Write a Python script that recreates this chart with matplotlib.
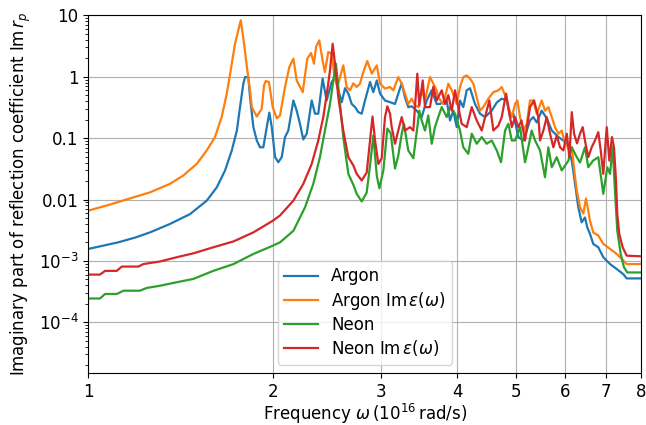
import math

import matplotlib
matplotlib.use("Agg")
import matplotlib.pyplot as plt
from matplotlib.ticker import FixedLocator, FuncFormatter, LogLocator, NullLocator

plt.rcParams["font.size"] = 12

# Argon, reflection coefficient
argon_freq = [1.000, 1.119, 1.192, 1.261, 1.359, 1.466, 1.561, 1.621, 1.672, 1.715,
              1.748, 1.769, 1.791, 1.803, 1.825, 1.837, 1.860, 1.884, 1.907, 1.931,
              1.956, 1.975, 1.993, 2.018, 2.043, 2.069, 2.095, 2.121, 2.162, 2.189,
              2.216, 2.244, 2.273, 2.316, 2.345, 2.374, 2.413, 2.450, 2.497, 2.528,
              2.560, 2.593, 2.625, 2.658, 2.692, 2.726, 2.760, 2.795, 2.830, 2.884,
              2.920, 2.958, 2.995, 3.051, 3.109, 3.168, 3.207, 3.249, 3.289, 3.330,
              3.373, 3.437, 3.502, 3.569, 3.637, 3.705, 3.751, 3.847, 3.896, 3.944,
              3.995, 4.045, 4.095, 4.148, 4.200, 4.279, 4.361, 4.444, 4.557, 4.644,
              4.732, 4.822, 4.882, 4.943, 5.036, 5.132, 5.199, 5.262, 5.328, 5.398,
              5.499, 5.604, 5.711, 5.782, 5.855, 5.966, 6.043, 6.079, 6.157, 6.234,
              6.310, 6.390, 6.470, 6.527, 6.594, 6.676, 6.803, 6.932, 7.110, 7.290,
              7.473, 7.568, 8.000]
argon_val = [0.00157, 0.00201, 0.0024, 0.00292, 0.0040, 0.0058, 0.0096, 0.0158, 0.0297, 0.063,
             0.133, 0.32, 0.77, 0.985, 0.985, 0.46, 0.151, 0.0915, 0.071, 0.071,
             0.151, 0.26, 0.151, 0.049, 0.0405, 0.049, 0.104, 0.133, 0.41, 0.28,
             0.171, 0.095, 0.118, 0.41, 0.25, 0.25, 0.93, 0.41, 0.82, 0.97,
             0.60, 0.385, 0.65, 0.53, 0.36, 0.32, 0.265, 0.25, 0.41, 0.82,
             0.56, 0.87, 0.53, 0.41, 0.385, 0.36, 0.53, 0.78, 0.46, 0.32,
             0.33, 0.28, 0.22, 0.41, 0.60, 0.36, 0.36, 0.41, 0.194, 0.28,
             0.151, 0.41, 0.32, 0.60, 0.65, 0.36, 0.25, 0.22, 0.28, 0.38,
             0.44, 0.41, 0.22, 0.25, 0.104, 0.0915, 0.133, 0.194, 0.22, 0.18,
             0.28, 0.21, 0.133, 0.118, 0.104, 0.0915, 0.081, 0.071, 0.043, 0.018,
             0.0075, 0.00426, 0.0051, 0.00353, 0.00275, 0.00189, 0.00167, 0.00115, 0.00089, 0.00074,
             0.00061, 0.00052, 0.00052]

# Argon, imaginary part of permittivity
argon_eps_freq = [1.000, 1.085, 1.183, 1.261, 1.359, 1.429, 1.503, 1.561, 1.610, 1.651,
                  1.683, 1.708, 1.736, 1.774, 1.796, 1.818, 1.837, 1.849, 1.884, 1.919,
                  1.936, 1.948, 1.972, 2.000, 2.031, 2.056, 2.095, 2.129, 2.162, 2.189,
                  2.239, 2.278, 2.310, 2.336, 2.354, 2.383, 2.413, 2.434, 2.465, 2.497,
                  2.528, 2.560, 2.608, 2.642, 2.675, 2.708, 2.743, 2.777, 2.812, 2.854,
                  2.903, 2.958, 2.995, 3.051, 3.109, 3.148, 3.207, 3.249, 3.289, 3.330,
                  3.373, 3.415, 3.458, 3.502, 3.546, 3.613, 3.659, 3.705, 3.727, 3.798,
                  3.871, 3.921, 3.995, 4.045, 4.095, 4.148, 4.200, 4.253, 4.307, 4.361,
                  4.415, 4.500, 4.585, 4.672, 4.732, 4.791, 4.851, 4.914, 4.975, 5.018,
                  5.069, 5.132, 5.199, 5.262, 5.328, 5.398, 5.499, 5.568, 5.638, 5.711,
                  5.782, 5.855, 5.930, 6.004, 6.079, 6.157, 6.234, 6.274, 6.351, 6.430,
                  6.495, 6.551, 6.594, 6.676, 6.803, 6.932, 7.110, 7.290, 7.428, 7.568,
                  8.000]
argon_eps_val = [0.0066, 0.0083, 0.0108, 0.0131, 0.018, 0.0246, 0.038, 0.063, 0.104, 0.22,
                 0.53, 1.27, 3.45, 8.3, 3.45, 1.27, 0.60, 0.32, 0.225, 0.30,
                 0.72, 0.85, 0.82, 0.32, 0.21, 0.234, 0.68, 1.43, 1.97, 0.87,
                 0.56, 1.97, 2.43, 1.63, 3.04, 3.91, 1.84, 1.19, 2.52, 2.37,
                 0.87, 0.78, 1.53, 0.68, 0.60, 0.78, 0.68, 0.77, 1.19, 1.80,
                 1.12, 1.53, 0.77, 0.64, 0.68, 0.60, 0.985, 0.77, 0.53, 0.36,
                 0.44, 0.34, 0.32, 0.60, 0.41, 0.985, 0.77, 0.60, 0.46, 0.36,
                 0.77, 0.60, 0.36, 0.68, 0.985, 1.05, 0.93, 0.77, 0.46, 0.28,
                 0.32, 0.44, 0.56, 0.60, 0.68, 0.50, 0.32, 0.22, 0.36, 0.41,
                 0.22, 0.133, 0.171, 0.41, 0.41, 0.25, 0.41, 0.28, 0.32, 0.22,
                 0.151, 0.118, 0.133, 0.081, 0.071, 0.071, 0.0231, 0.014, 0.0075, 0.0059,
                 0.0104, 0.0066, 0.0045, 0.0029, 0.0026, 0.0019, 0.00157, 0.0013, 0.00108, 0.00089,
                 0.00089]

# Neon, reflection coefficient
neon_freq = [1.000, 1.045, 1.065, 1.113, 1.141, 1.214, 1.245, 1.309, 1.394, 1.484,
             1.600, 1.726, 1.860, 2.000, 2.056, 2.162, 2.259, 2.330, 2.389, 2.434,
             2.481, 2.512, 2.537, 2.570, 2.608, 2.658, 2.708, 2.743, 2.795, 2.848,
             2.884, 2.920, 2.958, 2.987, 3.032, 3.078, 3.117, 3.168, 3.207, 3.249,
             3.276, 3.330, 3.394, 3.445, 3.471, 3.502, 3.546, 3.590, 3.637, 3.681,
             3.727, 3.776, 3.847, 3.896, 3.970, 4.045, 4.095, 4.173, 4.227, 4.307,
             4.389, 4.472, 4.557, 4.644, 4.719, 4.791, 4.851, 4.914, 4.975, 5.069,
             5.165, 5.230, 5.296, 5.363, 5.465, 5.568, 5.638, 5.711, 5.819, 5.930,
             6.079, 6.157, 6.274, 6.351, 6.470, 6.551, 6.670, 6.803, 6.932, 7.037,
             7.110, 7.181, 7.243, 7.306, 7.400, 7.492, 7.586, 8.000]
neon_val = [0.000245, 0.000245, 0.00029, 0.00029, 0.000328, 0.000328, 0.000363, 0.000395, 0.00045, 0.00051,
            0.00069, 0.00089, 0.0013, 0.00177, 0.00201, 0.0031, 0.0075, 0.018, 0.049, 0.133,
            0.36, 0.87, 1.63, 0.46, 0.104, 0.0262, 0.0175, 0.0124, 0.0093, 0.0130,
            0.036, 0.11, 0.0245, 0.0152, 0.0297, 0.143, 0.12, 0.032, 0.052, 0.118,
            0.171, 0.063, 0.047, 0.151, 0.28, 0.194, 0.133, 0.234, 0.081, 0.151,
            0.22, 0.32, 0.22, 0.32, 0.25, 0.133, 0.071, 0.0555, 0.118, 0.081,
            0.104, 0.081, 0.0915, 0.063, 0.0405, 0.133, 0.171, 0.0915, 0.0915, 0.151,
            0.0405, 0.071, 0.133, 0.0915, 0.063, 0.0231, 0.071, 0.0336, 0.049, 0.0297,
            0.043, 0.071, 0.049, 0.040, 0.071, 0.0336, 0.043, 0.049, 0.0124, 0.0336,
            0.0262, 0.071, 0.014, 0.0031, 0.0013, 0.00079, 0.00065, 0.00065]

# Neon, imaginary part of permittivity
neon_eps_freq = [1.000, 1.045, 1.065, 1.113, 1.134, 1.207, 1.230, 1.309, 1.394, 1.484,
                 1.600, 1.726, 1.860, 2.000, 2.056, 2.162, 2.244, 2.316, 2.374, 2.419,
                 2.456, 2.481, 2.506, 2.528, 2.560, 2.608, 2.658, 2.708, 2.743, 2.795,
                 2.848, 2.884, 2.911, 2.939, 2.976, 3.013, 3.051, 3.078, 3.109, 3.129,
                 3.168, 3.207, 3.249, 3.289, 3.352, 3.394, 3.445, 3.471, 3.516, 3.546,
                 3.613, 3.659, 3.705, 3.776, 3.823, 3.871, 3.921, 3.970, 4.019, 4.071,
                 4.148, 4.227, 4.307, 4.389, 4.472, 4.516, 4.585, 4.672, 4.732, 4.809,
                 4.851, 4.914, 4.975, 5.036, 5.097, 5.165, 5.262, 5.343, 5.430, 5.465,
                 5.534, 5.604, 5.674, 5.745, 5.819, 5.892, 5.966, 6.043, 6.102, 6.157,
                 6.211, 6.280, 6.351, 6.415, 6.470, 6.551, 6.636, 6.718, 6.803, 6.865,
                 6.932, 7.022, 7.091, 7.161, 7.216, 7.271, 7.306, 7.361, 7.456, 7.568,
                 8.000]
neon_eps_val = [0.0006, 0.0006, 0.00069, 0.00069, 0.00081, 0.00081, 0.00089, 0.00098, 0.00115, 0.00133,
                0.00167, 0.00208, 0.00292, 0.0045, 0.0055, 0.0096, 0.018, 0.038, 0.0915, 0.22,
                0.60, 1.27, 3.45, 1.63, 0.46, 0.133, 0.049, 0.036, 0.0262, 0.0204,
                0.0275, 0.0915, 0.225, 0.0915, 0.038, 0.047, 0.22, 0.33, 0.25, 0.151,
                0.081, 0.133, 0.22, 0.133, 0.151, 0.133, 1.12, 0.34, 0.87, 0.32,
                0.32, 0.69, 0.41, 0.60, 0.36, 0.50, 0.28, 0.60, 0.32, 0.171,
                0.151, 0.32, 0.194, 0.133, 0.28, 0.41, 0.133, 0.16, 0.22, 0.53,
                0.32, 0.151, 0.22, 0.151, 0.194, 0.0915, 0.32, 0.41, 0.22, 0.0915,
                0.133, 0.22, 0.118, 0.071, 0.11, 0.071, 0.063, 0.118, 0.049, 0.265,
                0.118, 0.082, 0.118, 0.151, 0.0915, 0.049, 0.071, 0.0915, 0.125, 0.063,
                0.0262, 0.151, 0.043, 0.104, 0.071, 0.0204, 0.0058, 0.00275, 0.00167, 0.00122,
                0.00119]

x_ticks = [1, 2, 3, 4, 5, 6, 7, 8]


def y_label(v, pos):
    # plain decimals down to 0.01, powers of ten below
    if v >= 0.01:
        return "%g" % v
    return r"$10^{%d}$" % int(round(math.log10(v)))


fig = plt.figure(figsize=(6.46, 4.25), dpi=100)
ax = fig.add_axes([0.1367, 0.1224, 0.8562, 0.8416])

ax.plot(argon_freq, argon_val, color="C0", lw=1.6, label="Argon")
ax.plot(argon_eps_freq, argon_eps_val, color="C1", lw=1.6,
        label=r"Argon $\mathrm{Im}\,\varepsilon(\omega)$")
ax.plot(neon_freq, neon_val, color="C2", lw=1.6, label="Neon")
ax.plot(neon_eps_freq, neon_eps_val, color="C3", lw=1.6,
        label=r"Neon $\mathrm{Im}\,\varepsilon(\omega)$")

ax.set_xscale("log")
ax.set_yscale("log")
ax.set_xlim(1, 8)
ax.set_ylim(1.5e-5, 10)

ax.xaxis.set_major_locator(FixedLocator(x_ticks))
ax.xaxis.set_minor_locator(NullLocator())
ax.xaxis.set_major_formatter(FuncFormatter(lambda v, p: "%d" % v))
ax.yaxis.set_major_locator(LogLocator(base=10, numticks=12))
ax.yaxis.set_major_formatter(FuncFormatter(y_label))

ax.grid(True, which="major", color="#b0b0b0", lw=0.8)
ax.set_xlabel(r"Frequency $\omega\,(10^{16}\,\mathrm{rad/s})$", labelpad=1)
ax.set_ylabel(r"Imaginary part of reflection coefficient $\mathrm{Im}\,r_p$")
ax.legend(loc="lower center", labelspacing=0.25)

fig.savefig("out.png", dpi=100)
